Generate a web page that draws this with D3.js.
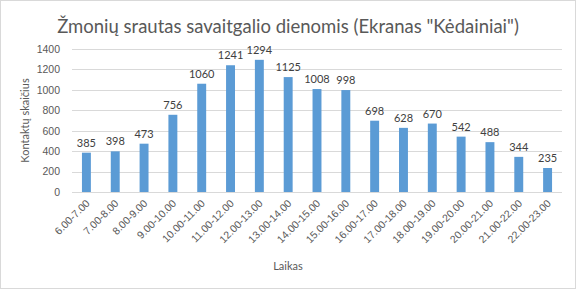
<!DOCTYPE html>
<html>
<head>
<meta charset="utf-8">
<script src="https://cdn.jsdelivr.net/npm/d3@7"></script>
<style>
  body { margin: 0; background: #fff; }
  svg { font-family: Lato, "Open Sans", sans-serif; }
</style>
</head>
<body>
<svg id="chart" width="576" height="289"></svg>
<script>
const categories = ['6.00-7.00','7.00-8.00','8.00-9.00','9.00-10.00','10.00-11.00','11.00-12.00',
  '12.00-13.00','13.00-14.00','14.00-15.00','15.00-16.00','16.00-17.00','17.00-18.00',
  '18.00-19.00','19.00-20.00','20.00-21.00','21.00-22.00','22.00-23.00'];
const values = [385, 398, 473, 756, 1060, 1241, 1294, 1125, 1008, 998, 698, 628, 670, 542, 488, 344, 235];
const yTicks = [0, 200, 400, 600, 800, 1000, 1200, 1400];

const W = 576, H = 289;
const m = { left: 72, right: 14, top: 49, bottom: 97 };
const svg = d3.select('#chart');

// chart frame
svg.append('rect').attr('x', 0.5).attr('y', 0.5).attr('width', W - 1).attr('height', H - 1)
  .attr('fill', '#fff').attr('stroke', '#d9d9d9');

const x = d3.scaleBand().domain(categories).range([m.left, W - m.right]).paddingInner(0.69).paddingOuter(0.345);
const y = d3.scaleLinear().domain([0, 1400]).range([H - m.bottom, m.top]);

// gridlines
svg.append('g').selectAll('line').data(yTicks).join('line')
  .attr('x1', m.left).attr('x2', W - m.right)
  .attr('y1', d => Math.round(y(d)) + 0.5).attr('y2', d => Math.round(y(d)) + 0.5)
  .attr('stroke', '#d9d9d9');

// y axis labels
const yAxis = svg.append('g').attr('transform', `translate(${m.left - 12},0)`)
  .call(d3.axisLeft(y).tickValues(yTicks).tickFormat(d3.format('d')).tickSize(0).tickPadding(0));
yAxis.select('.domain').remove();
yAxis.selectAll('text').attr('fill', '#595959').style('font-size', '10.5px');

// bars
svg.append('g').selectAll('rect').data(values).join('rect')
  .attr('x', (d, i) => x(categories[i]))
  .attr('y', d => y(d))
  .attr('width', x.bandwidth())
  .attr('height', d => y(0) - y(d))
  .attr('fill', '#5b9bd5');

// data labels
svg.append('g').selectAll('text').data(values).join('text')
  .attr('x', (d, i) => x(categories[i]) + x.bandwidth() / 2)
  .attr('y', d => y(d) - 6)
  .attr('text-anchor', 'middle')
  .attr('fill', '#404040')
  .style('font-size', '11px')
  .text(d => d);

// x axis
const xAxis = svg.append('g').attr('transform', `translate(0,${y(0)})`)
  .call(d3.axisBottom(x).tickSize(0).tickPadding(0));
xAxis.select('.domain').remove();
xAxis.selectAll('text')
  .attr('fill', '#595959')
  .style('font-size', '10.5px')
  .attr('text-anchor', 'end')
  .attr('dy', 0)
  .attr('transform', 'translate(4,12) rotate(-45)');

// title
svg.append('text').attr('x', 288).attr('y', 33).attr('text-anchor', 'middle')
  .attr('fill', '#595959').style('font-size', '18.5px')
  .text('Žmonių srautas savaitgalio dienomis (Ekranas "Kėdainiai")');

// axis titles
svg.append('text').attr('x', 288).attr('y', 270).attr('text-anchor', 'middle')
  .attr('fill', '#595959').style('font-size', '11px').text('Laikas');
svg.append('text').attr('transform', `translate(29,${(m.top + y(0)) / 2}) rotate(-90)`)
  .attr('text-anchor', 'middle').attr('fill', '#595959').style('font-size', '11px')
  .text('Kontaktų skaičius');
</script>
</body>
</html>
